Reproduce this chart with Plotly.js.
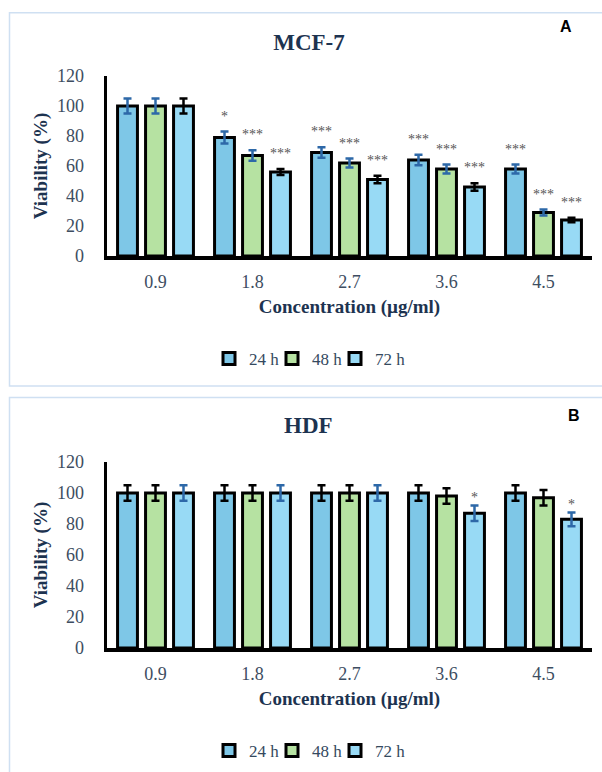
<!DOCTYPE html>
<html>
<head>
<meta charset="utf-8">
<script src="https://cdn.plot.ly/plotly-3.0.1.min.js"></script>
<style>html,body{margin:0;padding:0;background:#fff;}</style>
</head>
<body>
<div id="chart" style="width:602px;height:772px;"></div>
<script>
// ---------- DATA ----------
const categories = ["0.9", "1.8", "2.7", "3.6", "4.5"];
const seriesNames = ["24 h", "48 h", "72 h"];

// Panel A: MCF-7
const mcf24 = [100, 79, 69, 64, 58];
const mcf48 = [100, 67, 62, 58, 29];
const mcf72 = [100, 56, 51, 46, 24];
const mcf24Err = [5, 4, 3.5, 3.5, 3];
const mcf48Err = [5, 3.5, 3, 3, 2];
const mcf72Err = [5, 2, 2.5, 2.5, 1.5];
const mcf24Sig = ["", "*", "***", "***", "***"];
const mcf48Sig = ["", "***", "***", "***", "***"];
const mcf72Sig = ["", "***", "***", "***", "***"];

// Panel B: HDF
const hdf24 = [100, 100, 100, 100, 100];
const hdf48 = [100, 100, 100, 98, 97];
const hdf72 = [100, 100, 100, 87, 83];
const hdf24Err = [5, 5, 5, 5, 5];
const hdf48Err = [5, 5, 5, 5, 5];
const hdf72Err = [5, 5, 5, 5, 4.5];
const hdf24Sig = ["", "", "", "", ""];
const hdf48Sig = ["", "", "", "", ""];
const hdf72Sig = ["", "", "", "*", "*"];

const yTicks = [0, 20, 40, 60, 80, 100, 120];

// ---------- STYLE ----------
const fillColors = ["#7ec7e7", "#b6e2a2", "#98daf5"];
const errBlue = "#2d68a8";
const errBlack = "#000000";
const serif = "'Liberation Serif', 'Times New Roman', serif";
const sans = "'Liberation Sans', Arial, sans-serif";
const tickColor = "#3d4d61";
const titleColor = "#1d3350";
const bargap = 0.134;
const slot = (1 - bargap) / 3;

const xIdx = categories.map((c, i) => i);

function barTrace(name, vals, errs, color, errColor, xa, ya, legendId) {
  return {
    type: "bar",
    name: name,
    x: xIdx,
    y: vals,
    xaxis: xa,
    yaxis: ya,
    legend: legendId,
    marker: {color: color, line: {color: "#000", width: 3}},
    error_y: {type: "data", array: errs, visible: true, color: errColor, thickness: 2.5, width: 4},
    hoverinfo: "x+y"
  };
}

const traces = [
  barTrace(seriesNames[0], mcf24, mcf24Err, fillColors[0], errBlue, "x", "y", "legend"),
  barTrace(seriesNames[1], mcf48, mcf48Err, fillColors[1], errBlue, "x", "y", "legend"),
  barTrace(seriesNames[2], mcf72, mcf72Err, fillColors[2], errBlack, "x", "y", "legend"),
  barTrace(seriesNames[0], hdf24, hdf24Err, fillColors[0], errBlack, "x2", "y2", "legend2"),
  barTrace(seriesNames[1], hdf48, hdf48Err, fillColors[1], errBlack, "x2", "y2", "legend2"),
  barTrace(seriesNames[2], hdf72, hdf72Err, fillColors[2], errBlue, "x2", "y2", "legend2")
];

// significance annotations
const annotations = [];
function addSig(vals, errs, sigs, s, xref, yref, shift) {
  sigs.forEach((t, i) => {
    if (!t) return;
    annotations.push({
      x: i + (s - 1) * slot, y: vals[i] + errs[i], xref: xref, yref: yref,
      text: t, showarrow: false, yanchor: "bottom", xanchor: "center", yshift: shift,
      font: {family: serif, size: 14, color: "#555"}
    });
  });
}
addSig(mcf24, mcf24Err, mcf24Sig, 0, "x", "y", 6);
addSig(mcf48, mcf48Err, mcf48Sig, 1, "x", "y", 6);
addSig(mcf72, mcf72Err, mcf72Sig, 2, "x", "y", 6);
addSig(hdf24, hdf24Err, hdf24Sig, 0, "x2", "y2", -2);
addSig(hdf48, hdf48Err, hdf48Sig, 1, "x2", "y2", -2);
addSig(hdf72, hdf72Err, hdf72Sig, 2, "x2", "y2", -2);

// panel title B and panel letters
annotations.push({xref: "paper", yref: "paper", x: 308/602, y: 1 - 426/772, text: "<b>HDF</b>",
  showarrow: false, xanchor: "center", yanchor: "middle", font: {family: serif, size: 23, color: titleColor}});
annotations.push({xref: "paper", yref: "paper", x: 566/602, y: 1 - 26/772, text: "<b>A</b>",
  showarrow: false, xanchor: "center", yanchor: "middle", font: {family: sans, size: 16, color: "#000"}});
annotations.push({xref: "paper", yref: "paper", x: 574/602, y: 1 - 415/772, text: "<b>B</b>",
  showarrow: false, xanchor: "center", yanchor: "middle", font: {family: sans, size: 16, color: "#000"}});

function xAxis(anchor, domain) {
  return {
    anchor: anchor, domain: domain, range: [-0.5, categories.length - 0.5],
    tickmode: "array", tickvals: xIdx, ticktext: categories,
    showline: true, linecolor: "#000", linewidth: 3.5, showgrid: false, zeroline: false,
    ticks: "", ticklabelstandoff: 7, fixedrange: true,
    tickfont: {family: serif, size: 18, color: tickColor},
    title: {text: "<b>Concentration (µg/ml)</b>", standoff: 9, font: {family: serif, size: 19, color: titleColor}}
  };
}
function yAxis(anchor, domain) {
  return {
    anchor: anchor, domain: domain, range: [0, 120], tickvals: yTicks,
    showline: true, linecolor: "#000", linewidth: 3.5, showgrid: false, zeroline: false,
    ticks: "", ticklabelstandoff: 16, fixedrange: true,
    tickfont: {family: serif, size: 18, color: tickColor},
    title: {text: "<b>Viability (%)</b>", standoff: 5, font: {family: serif, size: 19, color: titleColor}}
  };
}

const legendBase = {
  orientation: "h", xanchor: "left", yanchor: "middle", x: 209/602,
  font: {family: serif, size: 17, color: "#34495e"}, bgcolor: "rgba(0,0,0,0)",
  itemwidth: 30, entrywidth: 18, entrywidthmode: "pixels",
  traceorder: "normal", itemclick: false, itemdoubleclick: false
};

const layout = {
  width: 602, height: 772, autosize: false,
  margin: {l: 0, r: 0, t: 0, b: 0, pad: 0},
  paper_bgcolor: "#fff", plot_bgcolor: "#fff",
  barmode: "group", bargap: bargap, bargroupgap: 0.29,
  showlegend: true,
  title: {text: "<b>MCF-7</b>", x: 309/602, xanchor: "center", y: 1 - 42/772, yanchor: "middle",
    font: {family: serif, size: 23, color: titleColor}},
  xaxis: xAxis("y", [107/602, 592/602]),
  yaxis: yAxis("x", [(772 - 256)/772, (772 - 76)/772]),
  xaxis2: xAxis("y2", [107/602, 592/602]),
  yaxis2: yAxis("x2", [(772 - 648)/772, (772 - 462)/772]),
  legend: Object.assign({}, legendBase, {y: 1 - 359/772}),
  legend2: Object.assign({}, legendBase, {y: 1 - 751/772}),
  annotations: annotations,
  shapes: [
    {type: "rect", xref: "paper", yref: "paper", x0: 9.5/602, x1: 1.02, y0: 1 - 386/772, y1: 1 - 12.7/772,
      line: {color: "#cfe0f2", width: 1.5}, fillcolor: "rgba(0,0,0,0)", layer: "below"},
    {type: "rect", xref: "paper", yref: "paper", x0: 9.5/602, x1: 1.02, y0: -0.02, y1: 1 - 397.5/772,
      line: {color: "#cfe0f2", width: 1.5}, fillcolor: "rgba(0,0,0,0)", layer: "below"}
  ]
};

Plotly.newPlot("chart", traces, layout, {displayModeBar: false, staticPlot: true}).then(function (gd) {
  // let the compact legend entries show their full text
  gd.querySelectorAll(".scrollbox").forEach(function (el) { el.removeAttribute("clip-path"); });
});
</script>
</body>
</html>
